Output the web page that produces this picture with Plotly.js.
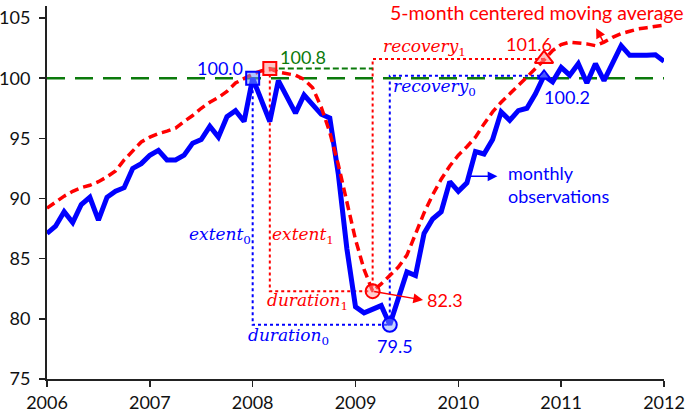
<!DOCTYPE html>
<html>
<head>
<meta charset="utf-8">
<script src="https://cdn.plot.ly/plotly-3.0.1.min.js"></script>
<style>html,body{margin:0;padding:0;background:#fff;}#chart{width:685px;height:419px;}</style>
</head>
<body>
<div id="chart"></div>
<script>
// ---- DATA ----
var startYear = 2006;
var yearTicks = [2006, 2007, 2008, 2009, 2010, 2011, 2012];
var yTicks = [75, 80, 85, 90, 95, 100, 105];
// monthly observations, Jan 2006 .. Jan 2012
var monthly = [87.1, 87.7, 88.9, 88.0, 89.5, 90.1, 88.2, 90.1, 90.6, 90.9, 92.5, 92.9,
  93.6, 94.0, 93.2, 93.2, 93.6, 94.6, 94.9, 96.0, 95.1, 96.8, 97.3, 96.4,
  100.0, 98.2, 96.4, 99.8, 98.4, 97.1, 98.6, 97.8, 97.0, 96.7, 92.0, 85.8,
  81.0, 80.5, 80.8, 81.1, 79.5, 81.8, 83.9, 83.6, 87.1, 88.3, 88.9, 91.4,
  90.6, 91.3, 93.9, 93.7, 94.9, 97.2, 96.5, 97.3, 97.5, 98.7, 100.2, 99.7,
  100.9, 100.25, 101.2, 99.6, 101.2, 99.8, 101.2, 102.7, 101.9, 101.85, 101.9, 101.95,
  101.4];
// 5-month centered moving average
var movingAvg = [89.2, 89.7, 90.2, 90.6, 90.9, 91.1, 91.4, 91.8, 92.3, 93.2, 94.0, 94.7,
  95.1, 95.4, 95.6, 95.85, 96.4, 96.9, 97.5, 98.0, 98.4, 98.9, 99.6, 100.0,
  100.35, 100.6, 100.8, 100.5, 100.4, 100.25, 99.9, 99.2, 97.6, 95.5, 92.8, 89.6,
  86.6, 84.1, 82.3, 82.9, 83.6, 84.3, 85.3, 87.1, 88.8, 90.3, 91.6, 92.7,
  93.6, 94.3, 95.1, 96.2, 97.2, 98.0, 98.7, 99.4, 100.1, 100.7, 101.5, 102.3,
  102.8, 103.0, 102.95, 102.85, 102.7, 103.0, 103.4, 103.7, 103.9, 104.1, 104.2, 104.3,
  104.4];
// turning points: month index and labelled value
var peak0 = {i: 24, v: 100.0}, peak1 = {i: 26, v: 100.8};
var trough0 = {i: 40, v: 79.5}, trough1 = {i: 38, v: 82.3};
var recov0 = {i: 58, v: 100.2}, recov1 = {i: 58, v: 101.6};
var baseLevel = 100;

function tx(i) { return startYear + i / 12; }
var xs = monthly.map(function (_, i) { return tx(i); });
var xsMA = movingAvg.map(function (_, i) { return tx(i); });

var BLUE = '#0000ff', RED = '#ff0000', GREEN = '#0b7a0b';
var traces = [];
function seg(xa, ya, color, dash, width) {
  traces.push({x: xa, y: ya, mode: 'lines', hoverinfo: 'skip',
    line: {color: color, dash: dash, width: width}});
}
// dotted guide lines
seg([tx(peak0.i), tx(peak0.i), tx(trough0.i), tx(trough0.i), tx(recov0.i)],
    [peak0.v, trough0.v, trough0.v, recov0.v, recov0.v], BLUE, 'dot', 2);
seg([tx(peak1.i), tx(peak1.i), tx(trough1.i), tx(trough1.i), tx(recov1.i)],
    [peak1.v, trough1.v, trough1.v, recov1.v, recov1.v], RED, 'dot', 2);
// green lines
seg([startYear, yearTicks[yearTicks.length - 1]], [baseLevel, baseLevel], GREEN, '18px,10px', 2.5);
seg([tx(peak1.i), tx(trough1.i)], [peak1.v, peak1.v], GREEN, '6px,3px', 2);
// main series
traces.push({x: xs, y: monthly, mode: 'lines', hoverinfo: 'skip',
  line: {color: BLUE, width: 5, shape: 'linear'}});
traces.push({x: xsMA, y: movingAvg, mode: 'lines', hoverinfo: 'skip',
  line: {color: RED, width: 3.5, dash: '9px,5px'}});
// markers
function mk(p, sym, size, col, fill) {
  traces.push({x: [tx(p.i)], y: [p.v], mode: 'markers', hoverinfo: 'skip',
    marker: {symbol: sym, size: size, color: fill, line: {color: col, width: 2}}});
}
mk(peak0, 'square', 13, BLUE, 'rgba(110,150,255,0.55)');
mk(peak1, 'square', 13, RED, 'rgba(255,140,140,0.5)');
mk(trough1, 'circle', 14, RED, 'rgba(255,150,150,0.45)');
mk(trough0, 'circle', 14, BLUE, 'rgba(130,160,255,0.45)');
mk(recov1, 'triangle-up', 16, RED, 'rgba(255,140,140,0.55)');
mk(recov0, 'triangle-up', 11, BLUE, 'rgba(130,160,255,0.55)');

var SANS = 'Lato, "Open Sans", sans-serif';
var SERIF = '"DejaVu Serif", serif';
function lab(text, x, y, color, opts) {
  var a = {text: text, x: x, y: y, xref: 'x', yref: 'y', showarrow: false,
    font: {family: SANS, size: 18, color: color}, xanchor: 'center', yanchor: 'middle'};
  if (opts) for (var k in opts) a[k] = opts[k];
  return a;
}
function ital(word, sub, x, y, color) {
  return lab('<i>' + word + '</i><sub>' + sub + '</sub>', x, y, color,
    {font: {family: SERIF, size: 17, color: color}});
}
var annotations = [
  lab('5-month centered moving average', 2010.765, 105.5, RED, {font: {family: SANS, size: 19.5, color: RED}}),
  lab('monthly<br>observations', 2010.46, 91.2, BLUE, {xanchor: 'left', align: 'left'}),
  lab(peak0.v.toFixed(1), 2007.68, 100.85, BLUE),
  lab(peak1.v.toFixed(1), 2008.49, 101.8, GREEN),
  lab(recov1.v.toFixed(1), 2010.69, 102.85, RED),
  lab(recov0.v.toFixed(1), 2011.06, 98.4, BLUE),
  lab(trough1.v.toFixed(1), 2009.875, 81.56, RED),
  lab(trough0.v.toFixed(1), 2009.38, 77.75, BLUE),
  ital('recovery', '1', 2009.67, 102.55, RED),
  ital('recovery', '0', 2009.77, 99.2, BLUE),
  ital('extent', '0', 2007.68, 86.9, BLUE),
  ital('extent', '1', 2008.49, 86.95, RED),
  ital('duration', '1', 2008.53, 81.4, RED),
  ital('duration', '0', 2008.35, 78.5, BLUE),
  // arrows
  {x: 2009.657, y: 81.56, ax: tx(trough1.i), ay: trough1.v, axref: 'x', ayref: 'y',
   xref: 'x', yref: 'y', text: '', showarrow: true, arrowhead: 2, arrowsize: 1.3,
   arrowwidth: 1.5, arrowcolor: RED},
  {x: 2010.38, y: 91.85, ax: 2010.09, ay: 91.85, axref: 'x', ayref: 'y',
   xref: 'x', yref: 'y', text: '', showarrow: true, arrowhead: 2, arrowsize: 1.3,
   arrowwidth: 1.5, arrowcolor: BLUE},
  {x: 2011.34, y: 104.15, ax: 2011.42, ay: 102.85, axref: 'x', ayref: 'y',
   xref: 'x', yref: 'y', text: '', showarrow: true, arrowhead: 2, arrowsize: 1.3,
   arrowwidth: 1.5, arrowcolor: RED}
];

var layout = {
  width: 685, height: 419,
  margin: {l: 47, r: 21, t: 6, b: 40},
  paper_bgcolor: '#fff', plot_bgcolor: '#fff',
  showlegend: false,
  xaxis: {range: [startYear, yearTicks[yearTicks.length - 1]], tickvals: yearTicks,
    ticktext: yearTicks.map(String), ticks: 'outside', ticklen: 6, tickwidth: 1.5,
    tickcolor: '#222', showline: true, linecolor: '#222', linewidth: 2,
    showgrid: false, zeroline: false,
    tickfont: {family: SANS, size: 18, color: '#111'}},
  yaxis: {range: [75, 106], tickvals: yTicks, ticks: 'outside', ticklen: 6,
    tickwidth: 1.5, tickcolor: '#222', showline: true, linecolor: '#222', linewidth: 2,
    showgrid: false, zeroline: false, ticklabelstandoff: 5,
    tickfont: {family: SANS, size: 18, color: '#111'}},
  annotations: annotations
};
Plotly.newPlot('chart', traces, layout, {staticPlot: true, displayModeBar: false});
</script>
</body>
</html>
